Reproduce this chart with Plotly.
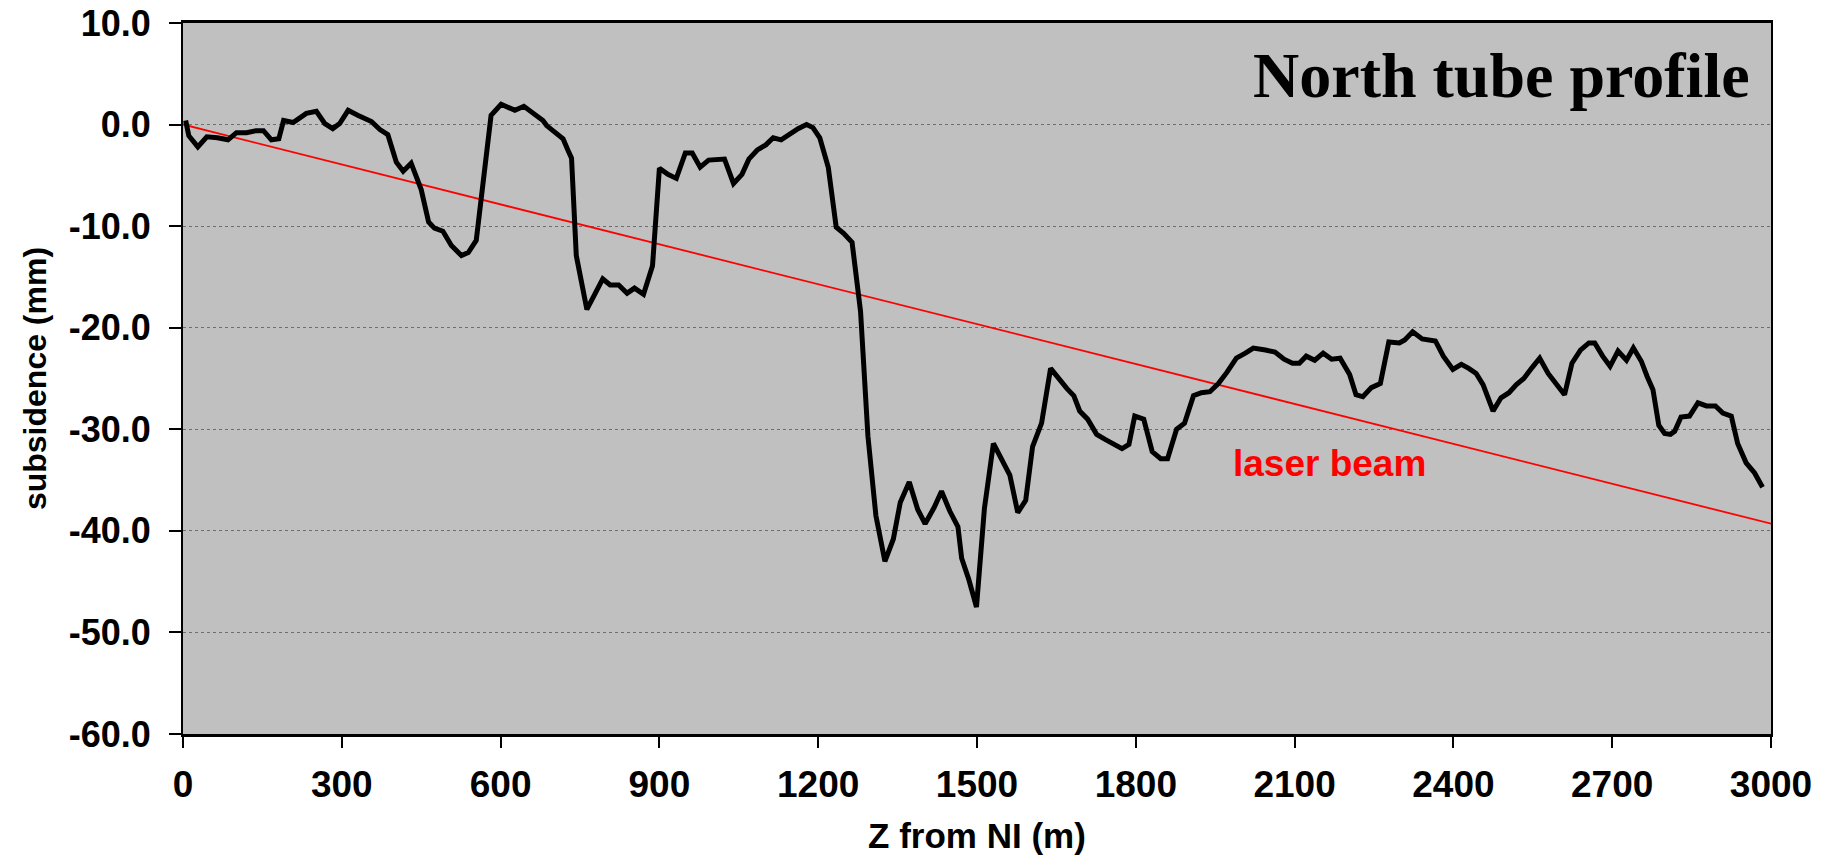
import plotly.graph_objects as go

# Measured profile of the north tube: distance along the tube (m) and subsidence (mm)
z_m = [5, 11, 28, 45, 65, 85, 101, 120, 138, 152, 167, 181, 190, 208, 233, 252, 268, 283, 296,
       312, 331, 356, 372, 387, 403, 416, 431, 450, 464, 475, 491, 507, 526, 539, 554, 562, 573,
       582, 601, 627, 644, 664, 680, 687, 702, 718, 727, 734, 743, 763, 779, 793, 807, 823, 839,
       853, 870, 887, 900, 916, 932, 949, 962, 977, 993, 1007, 1023, 1040, 1056, 1069, 1085,
       1101, 1115, 1130, 1162, 1178, 1190, 1203, 1219, 1234, 1248, 1264, 1280, 1294, 1309,
       1326, 1342, 1355, 1372, 1388, 1402, 1419, 1433, 1449, 1464, 1471, 1484, 1499, 1514,
       1531, 1547, 1562, 1577, 1592, 1605, 1622, 1639, 1654, 1670, 1683, 1694, 1709, 1726,
       1742, 1761, 1774, 1787, 1798, 1815, 1831, 1847, 1860, 1877, 1892, 1909, 1924, 1940,
       1956, 1972, 1990, 2007, 2022, 2045, 2063, 2080, 2096, 2109, 2122, 2138, 2154, 2170,
       2186, 2204, 2216, 2229, 2245, 2262, 2278, 2298, 2308, 2323, 2341, 2366, 2381, 2399,
       2415, 2429, 2443, 2456, 2465, 2475, 2490, 2505, 2519, 2533, 2549, 2563, 2579, 2594,
       2610, 2624, 2640, 2656, 2667, 2682, 2696, 2711, 2727, 2740, 2755, 2766, 2777, 2788,
       2799, 2810, 2818, 2830, 2846, 2862, 2878, 2895, 2909, 2925, 2937, 2953, 2969, 2984]

subsidence_mm = [0.4, -1.1, -2.2, -1.2, -1.3, -1.5, -0.8, -0.8, -0.6, -0.6, -1.5, -1.4, 0.4, 0.2,
                 1.1, 1.3, 0.1, -0.4, 0.1, 1.4, 0.9, 0.3, -0.5, -1.0, -3.7, -4.6, -3.8, -6.4,
                 -9.6, -10.2, -10.5, -11.9, -12.9, -12.6, -11.4, -7.8, -3.8, 0.9, 2.0, 1.4, 1.8,
                 1.0, 0.4, -0.1, -0.7, -1.4, -2.5, -3.3, -12.9, -18.2, -16.6, -15.2, -15.8,
                 -15.8, -16.6, -16.1, -16.7, -13.9, -4.3, -4.9, -5.3, -2.8, -2.8, -4.2, -3.5,
                 -3.5, -3.4, -5.8, -4.9, -3.4, -2.5, -2.0, -1.3, -1.5, -0.4, 0.0, -0.3, -1.3,
                 -4.2, -10.1, -10.7, -11.6, -18.4, -30.7, -38.5, -43.0, -40.8, -37.2, -35.2,
                 -37.9, -39.3, -37.7, -36.1, -38.1, -39.6, -42.7, -44.7, -47.5, -37.8, -31.4,
                 -32.9, -34.5, -38.2, -37.0, -31.7, -29.4, -24.0, -25.0, -26.0, -26.7, -28.2,
                 -29.0, -30.5, -31.0, -31.5, -31.9, -31.5, -28.7, -29.0, -32.2, -32.9, -32.9,
                 -30.0, -29.4, -26.7, -26.4, -26.3, -25.5, -24.4, -23.0, -22.5, -22.0, -22.2,
                 -22.4, -23.1, -23.5, -23.5, -22.8, -23.2, -22.5, -23.1, -23.0, -24.6, -26.6,
                 -26.8, -25.9, -25.5, -21.4, -21.5, -21.2, -20.4, -21.1, -21.3, -22.8, -24.1,
                 -23.6, -24.0, -24.5, -25.6, -26.9, -28.2, -26.9, -26.4, -25.6, -25.0, -23.9,
                 -23.0, -24.5, -25.6, -26.6, -23.5, -22.2, -21.5, -21.5, -22.8, -23.8, -22.3,
                 -23.2, -22.0, -23.3, -24.8, -26.1, -29.6, -30.4, -30.5, -30.2, -28.8, -28.7,
                 -27.4, -27.7, -27.7, -28.4, -28.7, -31.4, -33.3, -34.3, -35.7]

# Reference line of the alignment laser
laser_z = [-15, 3012]
laser_mm = [0.2, -39.45]

x_tick_values = [0, 300, 600, 900, 1200, 1500, 1800, 2100, 2400, 2700, 3000]
y_tick_values = [-60, -50, -40, -30, -20, -10, 0, 10]
y_tick_labels = ["-60.0", "-50.0", "-40.0", "-30.0", "-20.0", "-10.0", "0.0", "10.0"]

SANS = "Liberation Sans, Arial, sans-serif"
SERIF = "Liberation Serif, Times New Roman, serif"

fig = go.Figure()
fig.add_trace(go.Scatter(x=laser_z, y=laser_mm, mode="lines",
                         line=dict(color="#FF0000", width=1.8), hoverinfo="skip",
                         showlegend=False))
fig.add_trace(go.Scatter(x=z_m, y=subsidence_mm, mode="lines",
                         line=dict(color="#000000", width=5), showlegend=False))

fig.add_annotation(x=2166, y=-33.4, xref="x", yref="y", text="laser beam",
                   showarrow=False,
                   font=dict(family=SANS, size=37, color="#FF0000", weight="bold"),
                   xanchor="center", yanchor="middle")
fig.add_annotation(x=0.988, y=0.926, xref="paper", yref="paper",
                   text="North tube profile", showarrow=False,
                   font=dict(family=SERIF, size=64, color="#000000", weight="bold"),
                   xanchor="right", yanchor="middle")

fig.update_layout(
    width=1831, height=855,
    margin=dict(l=183, r=60, t=23, b=121, pad=0),
    paper_bgcolor="#FFFFFF",
    plot_bgcolor="#C0C0C0",
    font=dict(family=SANS, color="#000000"),
)

fig.update_xaxes(
    range=[0, 3000], tickvals=x_tick_values, ticks="outside", ticklen=11, tickwidth=2,
    tickcolor="#000000", showline=True, linecolor="#000000", linewidth=3, mirror=True,
    showgrid=False, zeroline=False, automargin=False,
    tickfont=dict(family=SANS, size=37, color="#000000", weight="bold"),
    ticklabelstandoff=5,
    title=dict(text="Z from NI (m)",
               font=dict(family=SANS, size=35, color="#000000", weight="bold"),
               standoff=20),
)
fig.update_yaxes(
    range=[-60, 10], tickvals=y_tick_values, ticktext=y_tick_labels, ticks="outside",
    ticklen=12, tickwidth=2, tickcolor="#000000", showline=True, linecolor="#000000",
    linewidth=2, mirror=True, showgrid=True, gridcolor="#6E6E6E", gridwidth=1,
    griddash="dot", zeroline=False, automargin=False,
    tickfont=dict(family=SANS, size=36, color="#000000", weight="bold"),
    ticklabelstandoff=11,
    title=dict(text="subsidence (mm)",
               font=dict(family=SANS, size=32, color="#000000", weight="bold"),
               standoff=13),
)

fig.write_html("out.html")
